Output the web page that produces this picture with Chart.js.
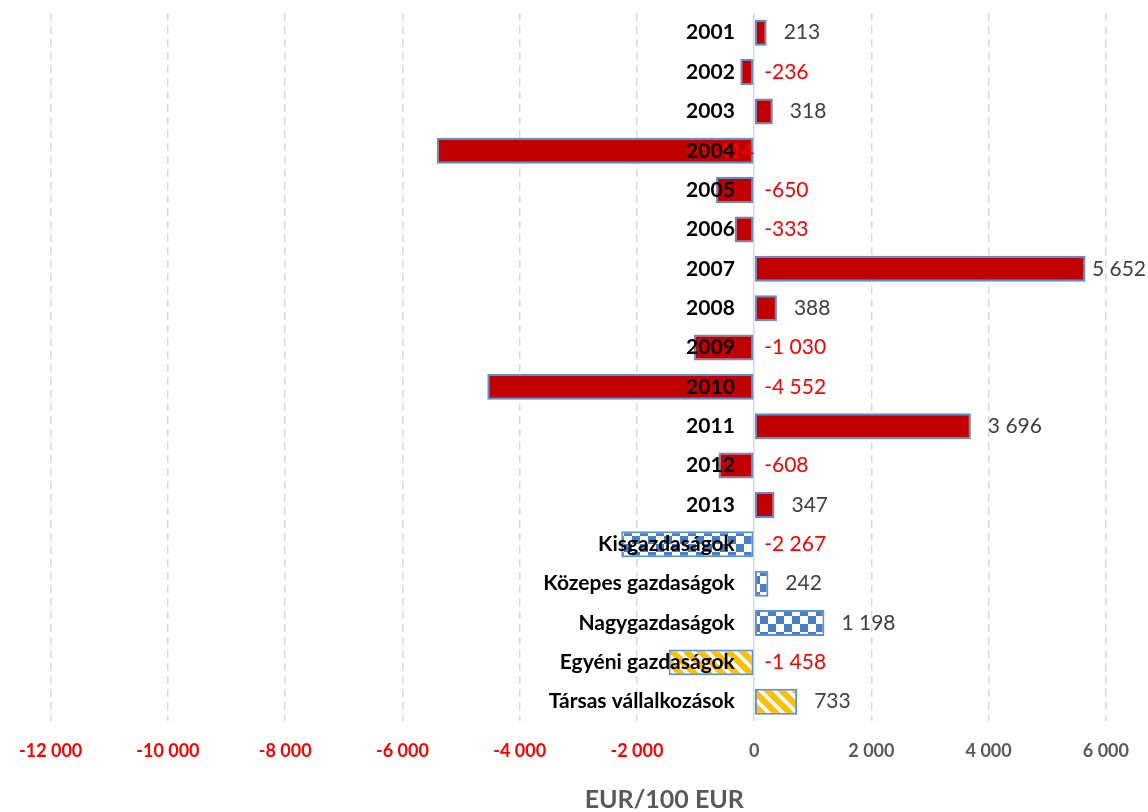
<!DOCTYPE html>
<html>
<head>
<meta charset="utf-8">
<script src="https://cdn.jsdelivr.net/npm/chart.js@4.4.1/dist/chart.umd.min.js"></script>
<style>
  html, body { margin: 0; padding: 0; background: #fff; }
  #wrap { width: 1148px; height: 812px; }
</style>
</head>
<body>
<div id="wrap"><canvas id="chart"></canvas></div>
<script>
const categories = [
    '2001', '2002', '2003', '2004', '2005', '2006', '2007', '2008', '2009',
    '2010', '2011', '2012', '2013',
    'Kisgazdaságok', 'Közepes gazdaságok', 'Nagygazdaságok',
    'Egyéni gazdaságok', 'Társas vállalkozások'
];
const values = [
    213, -236, 318, -5414, -650, -333, 5652, 388, -1030,
    -4552, 3696, -608, 347,
    -2267, 242, 1198,
    -1458, 733
];
// which fill each bar gets: plain, checkerboard (farm size), stripes (legal form)
const fillKinds = [
    'solid', 'solid', 'solid', 'solid', 'solid', 'solid', 'solid', 'solid', 'solid',
    'solid', 'solid', 'solid', 'solid',
    'check', 'check', 'check',
    'stripe', 'stripe'
];
const axisMin = -12000;
const axisMax = 6000;
const axisStep = 2000;
const axisTitle = 'EUR/100 EUR';

// category labels hang a little left of the zero line
const LABEL_ANCHOR = -330;
// this one's value label sits left of the zero line, under the year label
const labelsBehindAxis = ['2004'];

const RED = '#c00000';
const BLUE = '#4a7ec2';
const ORANGE = '#ffc000';
const EDGE = '#5b8fd4';
const GRID = '#d9d9d9';

function fmt(v) {
    const s = Math.abs(v).toString().replace(/\B(?=(\d{3})+(?!\d))/g, ' ');
    return (v < 0 ? '-' : '') + s;
}

function checkerPattern(size, color) {
    const c = document.createElement('canvas');
    c.width = c.height = size * 2;
    const g = c.getContext('2d');
    g.fillStyle = '#fff';
    g.fillRect(0, 0, size * 2, size * 2);
    g.fillStyle = color;
    g.fillRect(0, 0, size, size);
    g.fillRect(size, size, size, size);
    return g.createPattern(c, 'repeat');
}

function stripePattern(size, color) {
    const c = document.createElement('canvas');
    c.width = c.height = size;
    const g = c.getContext('2d');
    g.fillStyle = color;
    g.fillRect(0, 0, size, size);
    g.strokeStyle = '#fff';
    g.lineWidth = size * 0.26;
    g.beginPath();
    for (let k = -1; k <= 1; k++) {
        g.moveTo(k * size - 1, -1);
        g.lineTo(k * size + size + 1, size + 1);
    }
    g.stroke();
    return g.createPattern(c, 'repeat');
}

const valueLabels = {
    id: 'valueLabels',
    afterDatasetsDraw(chart) {
        const ctx = chart.ctx;
        const meta = chart.getDatasetMeta(0);
        const zero = chart.scales.x.getPixelForValue(0);
        ctx.save();
        ctx.font = '21px Lato';
        ctx.textBaseline = 'middle';
        meta.data.forEach((bar, i) => {
            const v = values[i];
            const text = fmt(v);
            const w = ctx.measureText(text).width;
            let x = zero + 10;
            ctx.textAlign = 'left';
            if (v >= 0) {
                x = Math.min(bar.x + 17, chart.width - w - 2);
            } else if (labelsBehindAxis.includes(categories[i])) {
                x = zero;
                ctx.textAlign = 'right';
            }
            ctx.fillStyle = v < 0 ? '#ff0000' : '#404040';
            ctx.fillText(text, x, bar.y);
        });
        ctx.restore();
    }
};

// axis caption under the tick labels, a bit right of centre
const axisCaption = {
    id: 'axisCaption',
    afterDraw(chart) {
        const ctx = chart.ctx;
        const area = chart.chartArea;
        ctx.save();
        ctx.font = 'bold 25px Lato';
        ctx.fillStyle = '#595959';
        ctx.textAlign = 'center';
        ctx.textBaseline = 'middle';
        ctx.fillText(axisTitle, (area.left + area.right) / 2 + 86, chart.height - 12);
        ctx.restore();
    }
};

function build() {
    Chart.defaults.font.family = 'Lato';

    const fills = fillKinds.map(k => {
        if (k === 'check') return checkerPattern(8, BLUE);
        if (k === 'stripe') return stripePattern(14, ORANGE);
        return RED;
    });

    const isZero = c => c.tick && c.tick.value === 0;

    new Chart(document.getElementById('chart'), {
        type: 'bar',
        data: {
            labels: categories,
            datasets: [{
                data: values,
                backgroundColor: fills,
                borderColor: EDGE,
                borderWidth: 2,
                borderSkipped: false,
                categoryPercentage: 1,
                barPercentage: 0.66
            }]
        },
        options: {
            indexAxis: 'y',
            responsive: true,
            maintainAspectRatio: false,
            animation: false,
            layout: { padding: { top: 13, left: 0, right: 0, bottom: 31 } },
            plugins: {
                legend: { display: false },
                tooltip: { enabled: false }
            },
            scales: {
                x: {
                    min: axisMin,
                    max: axisMax,
                    ticks: {
                        stepSize: axisStep,
                        padding: 19,
                        font: { size: 18, weight: 'bold' },
                        color: c => c.tick.value < 0 ? '#ff0000' : '#595959',
                        callback: v => fmt(v)
                    },
                    grid: {
                        color: GRID,
                        lineWidth: 1.5,
                        drawTicks: false
                    },
                    border: { display: false, dash: c => isZero(c) ? [] : [8, 5] }
                },
                y: {
                    position: { x: LABEL_ANCHOR },
                    grid: { display: false },
                    border: { display: false },
                    ticks: {
                        z: 1,
                        padding: 0,
                        autoSkip: false,
                        color: '#000',
                        font: { size: 21, weight: 'bold' }
                    }
                }
            }
        },
        plugins: [valueLabels, axisCaption]
    });
}

Promise.all([
    document.fonts.load('bold 18px Lato'),
    document.fonts.load('21px Lato')
]).then(build, build);
</script>
</body>
</html>
